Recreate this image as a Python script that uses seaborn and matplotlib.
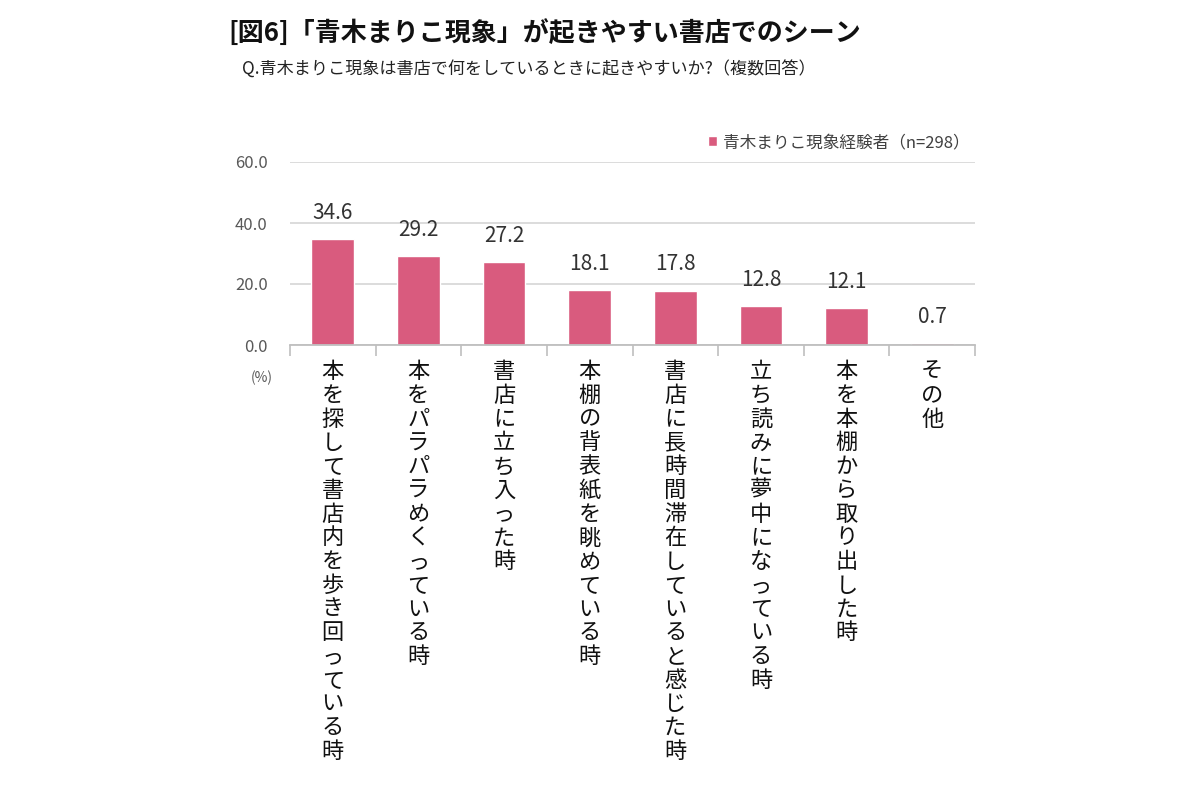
import numpy as np
import pandas as pd
import matplotlib
matplotlib.use("Agg")
import matplotlib.pyplot as plt
import seaborn as sns

# data
categories = [
    "本を探して書店内を歩き回っている時",
    "本をパラパラめくっている時",
    "書店に立ち入った時",
    "本棚の背表紙を眺めている時",
    "書店に長時間滞在していると感じた時",
    "立ち読みに夢中になっている時",
    "本を本棚から取り出した時",
    "その他",
]
values = [34.6, 29.2, 27.2, 18.1, 17.8, 12.8, 12.1, 0.7]
series_name = "青木まりこ現象経験者（n=298）"
y_ticks = [0, 20, 40, 60]

title = "[図6]「青木まりこ現象」が起きやすい書店でのシーン"
subtitle = "Q.青木まりこ現象は書店で何をしているときに起きやすいか?（複数回答）"

sns.set_theme(style="white")
plt.rcParams["font.family"] = ["Noto Sans CJK JP", "DejaVu Sans"]

df = pd.DataFrame({"scene": categories, "pct": values, "group": series_name})


def vertical(s):
    # stack characters top to bottom (tategaki style label)
    return "\n".join(s)


fig = plt.figure(figsize=(12, 8), dpi=100)
ax = fig.add_axes([290 / 1200, 1 - 345 / 800, 685 / 1200, 183 / 800])

sns.barplot(data=df, x="scene", y="pct", hue="group", palette=["#D95B7E"],
            width=0.5, saturation=1, ax=ax)

ax.bar_label(ax.containers[0], fmt="%.1f", padding=11, fontsize=15,
             color="#333333")

ax.set_xlim(-0.5, len(categories) - 0.5)
ax.set_ylim(0, 60)
ax.set_xlabel("")
ax.set_ylabel("")

# y axis
ax.set_yticks(y_ticks)
ax.set_yticklabels([f"{t:.1f}" for t in y_ticks])
ax.tick_params(axis="y", length=0, pad=16, labelsize=12, labelcolor="#595959")
ax.yaxis.grid(True, color="#D9D9D9", lw=1.3)
ax.set_axisbelow(True)

# x axis: vertical labels, ticks between categories
ax.set_xticks(range(len(categories)))
ax.set_xticklabels([vertical(c) for c in categories], fontsize=16,
                   linespacing=1.04, color="#111111")
ax.set_xticks(np.arange(-0.5, len(categories)), minor=True)
ax.tick_params(axis="x", which="major", length=0, pad=11)
ax.tick_params(axis="x", which="minor", length=8, width=1.2, color="#BFBFBF",
               direction="out", bottom=True)

for side in ["top", "right", "left"]:
    ax.spines[side].set_visible(False)
ax.spines["bottom"].set_color("#BFBFBF")
ax.spines["bottom"].set_linewidth(1.3)

ax.legend(loc="center right", bbox_to_anchor=(1.002, 1.105), frameon=False,
          handlelength=0.55, handleheight=0.55, handletextpad=0.35,
          fontsize=12, labelcolor="#404040", borderaxespad=0)

fig.text(262 / 1200, 1 - 378 / 800, "(%)", ha="center", va="center",
         fontsize=10, color="#595959")
fig.text(228 / 1200, 1 - 33 / 800, title, ha="left", va="center",
         fontsize=18.7, fontweight="bold", color="#111111")
fig.text(242 / 1200, 1 - 70 / 800, subtitle, ha="left", va="center",
         fontsize=12.3, color="#222222")

fig.savefig("out.png", dpi=100)
